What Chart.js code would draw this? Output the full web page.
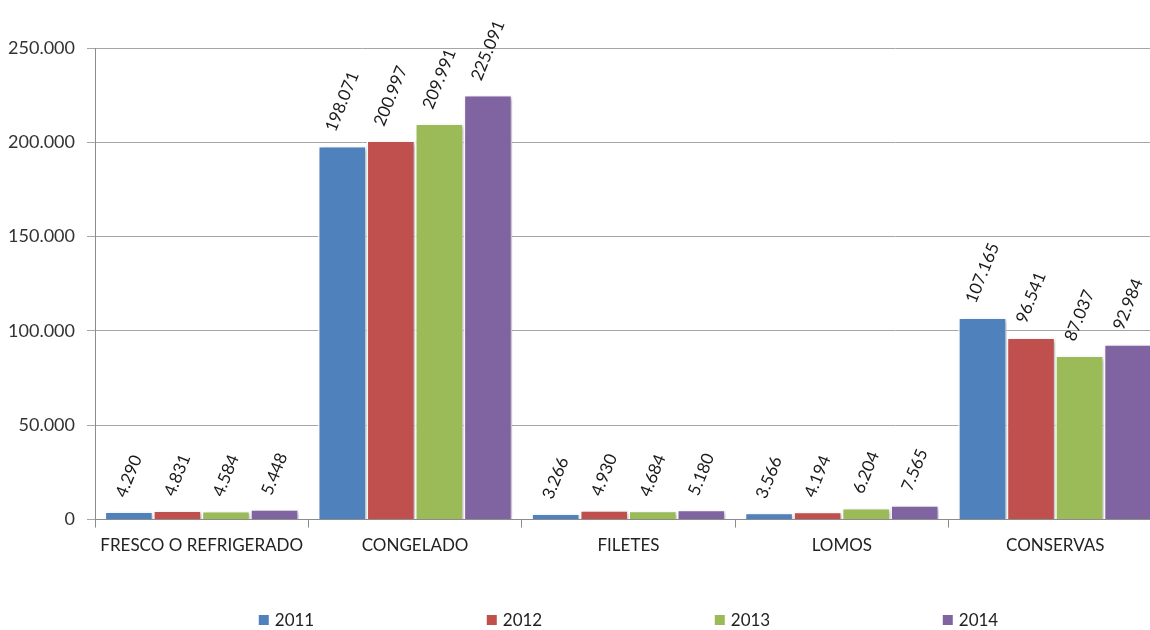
<!DOCTYPE html>
<html>
<head>
<meta charset="utf-8">
<script src="https://cdn.jsdelivr.net/npm/chart.js@4.4.0/dist/chart.umd.min.js"></script>
<style>
  html, body { margin: 0; padding: 0; background: #fff; overflow: hidden; }
  #wrap { width: 1162px; height: 630px; }
</style>
</head>
<body>
<div id="wrap"><canvas id="chart"></canvas></div>
<script>
const categories = ['FRESCO O REFRIGERADO', 'CONGELADO', 'FILETES', 'LOMOS', 'CONSERVAS'];
const years = ['2011', '2012', '2013', '2014'];
const v2011 = [4290, 198071, 3266, 3566, 107165];
const v2012 = [4831, 200997, 4930, 4194, 96541];
const v2013 = [4584, 209991, 4684, 6204, 87037];
const v2014 = [5448, 225091, 5180, 7565, 92984];
const yTicks = [0, 50000, 100000, 150000, 200000, 250000];
const colors = ['#4F81BD', '#C0504D', '#9BBB59', '#8064A2'];

const fmt = n => n.toString().replace(/\B(?=(\d{3})+(?!\d))/g, '.');
const FONT = 'Lato, "Liberation Sans", sans-serif';

// bar shadow + rotated value labels + legend
const barExtras = {
  id: 'barExtras',
  beforeDatasetsDraw(chart) {
    const ctx = chart.ctx;
    ctx.save();
    ctx.shadowColor = 'rgba(0,0,0,0.28)';
    ctx.shadowBlur = 4;
    ctx.shadowOffsetX = 2;
    ctx.shadowOffsetY = 2;
  },
  afterDatasetsDraw(chart) {
    const ctx = chart.ctx;
    ctx.restore();
    ctx.save();
    ctx.font = '17px ' + FONT;
    ctx.fillStyle = '#1a1a1a';
    ctx.textAlign = 'center';
    ctx.textBaseline = 'middle';
    const a = 68 * Math.PI / 180;
    chart.data.datasets.forEach((ds, i) => {
      chart.getDatasetMeta(i).data.forEach((bar, j) => {
        const txt = fmt(ds.data[j]);
        const w = ctx.measureText(txt).width;
        const ext = w * Math.sin(a) + 17 * Math.cos(a);
        ctx.save();
        ctx.translate(bar.x, bar.y - 12 - ext / 2);
        ctx.rotate(-a);
        ctx.fillText(txt, 0, 0);
        ctx.restore();
      });
    });
    ctx.restore();
  },
  afterDraw(chart) {
    const ctx = chart.ctx;
    const area = chart.chartArea;
    const step = 228;
    ctx.save();
    ctx.font = '17px ' + FONT;
    ctx.textBaseline = 'middle';
    const lastW = 10 + 6 + ctx.measureText(years[3]).width;
    const total = step * (years.length - 1) + lastW;
    let x = (area.left + area.right) / 2 - total / 2;
    const y = 620;
    years.forEach((yr, i) => {
      ctx.fillStyle = colors[i];
      ctx.fillRect(x, y - 5, 10, 10);
      ctx.fillStyle = '#222';
      ctx.fillText(yr, x + 16, y + 1);
      x += step;
    });
    ctx.restore();
  }
};

new Chart(document.getElementById('chart'), {
  type: 'bar',
  data: {
    labels: categories,
    datasets: [v2011, v2012, v2013, v2014].map((d, i) => ({
      label: years[i],
      data: d,
      backgroundColor: colors[i],
      borderColor: '#fff',
      borderWidth: 1.5,
      categoryPercentage: 0.91,
      barPercentage: 1.0
    }))
  },
  options: {
    responsive: true,
    maintainAspectRatio: false,
    animation: false,
    layout: { padding: { top: 48, right: 0, bottom: 66, left: 0 } },
    plugins: {
      legend: { display: false },
      tooltip: { enabled: false }
    },
    scales: {
      x: {
        grid: { offset: true, drawOnChartArea: false, tickLength: 8, color: '#8c8c8c' },
        border: { color: '#8c8c8c' },
        ticks: { color: '#222', font: { family: FONT, size: 17 }, padding: 8, maxRotation: 0 }
      },
      y: {
        min: 0,
        max: 250000,
        afterBuildTicks: s => { s.ticks = yTicks.map(v => ({ value: v })); },
        afterFit: s => { s.width = 95; },
        grid: { color: '#a6a6a6', tickLength: 8 },
        border: { color: '#8c8c8c' },
        ticks: { color: '#333', font: { family: FONT, size: 18 }, padding: 12, callback: v => fmt(v) }
      }
    }
  },
  plugins: [barExtras]
});
</script>
</body>
</html>
